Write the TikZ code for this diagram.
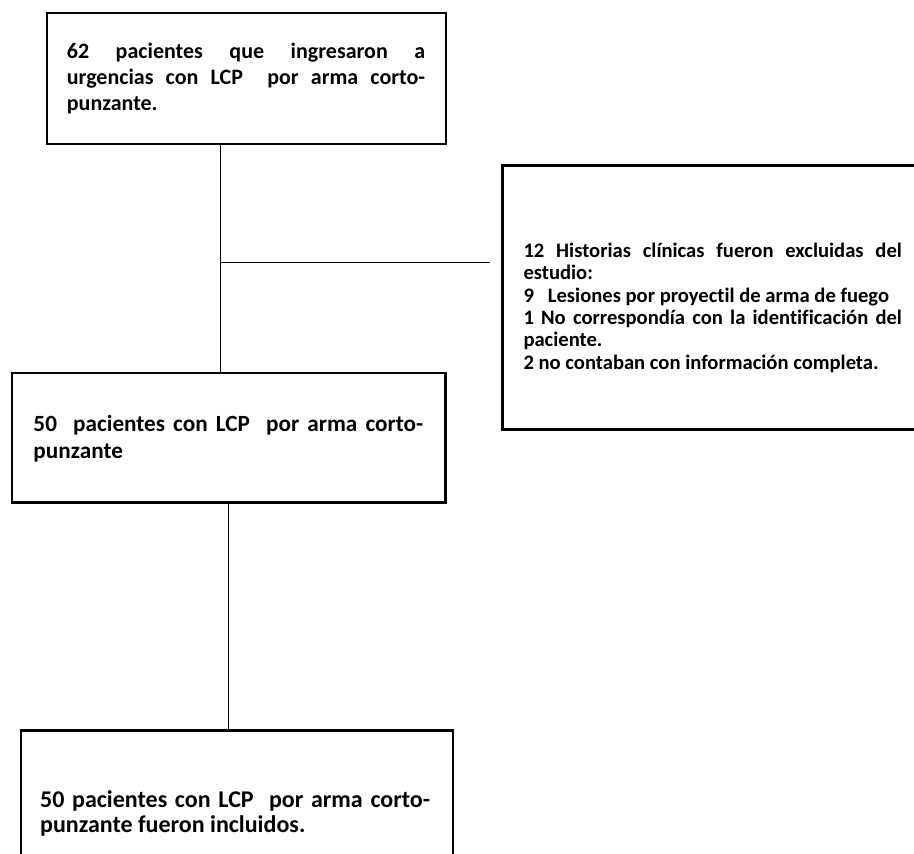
\documentclass[tikz,border=0pt]{standalone}
\usepackage{fontspec}
\setmainfont{Carlito}[Ligatures=NoCommon]
\begin{document}
\begin{tikzpicture}[x=1pt,y=-1pt,
  box/.style={draw=black, line width=2.4pt, rectangle, inner sep=0pt},
  link/.style={draw=black, line width=1.2pt},
  txt/.style={anchor=base west, inner sep=0pt, font=\bfseries}]
\useasboundingbox (0,0) rectangle (914,854);
\clip (0,0) rectangle (914,854);
% boxes
\node[box, minimum width=398.6pt, minimum height=131.4pt] (b1) at (246.5,78.5) {};
\node[box, minimum width=417.5pt, minimum height=264pt] (b2) at (711.25,297.3) {};
\node[box, minimum width=433.3pt, minimum height=129.8pt] (b3) at (228.65,437.6) {};
\node[box, minimum width=432pt, minimum height=139.7pt] (b4) at (236.7,800.15) {};
% texts
\node[txt] (t1) at (66.7,58.3) {\parbox[t]{358.3pt}{\fontsize{22}{25.85}\selectfont
\makebox[\linewidth][s]{62 pacientes que ingresaron a}\\
\makebox[\linewidth][s]{urgencias con LCP\ \ por arma corto-}\\
punzante.}};
\node[txt] (t2) at (523.3,257.3) {\parbox[t]{378.4pt}{\fontsize{20.6}{22.4}\selectfont
\makebox[\linewidth][s]{12 Historias clínicas fueron excluidas del}\\
estudio:\\
9\ \ \ Lesiones por proyectil de arma de fuego\\
\makebox[\linewidth][s]{1 No correspondía con la identificación del}\\
paciente.\\
2 no contaban con información completa.}};
\node[txt] (t3) at (33.3,431.7) {\parbox[t]{389.7pt}{\fontsize{23.2}{26.7}\selectfont
\makebox[\linewidth][s]{50\ \ pacientes con LCP\ \ por arma corto-}\\
punzante}};
\node[txt] (t4) at (40,807.3) {\parbox[t]{390pt}{\fontsize{24}{25.5}\selectfont
\makebox[\linewidth][s]{50 pacientes con LCP\ \ por arma corto-}\\
punzante fueron incluidos.}};
% connectors
\coordinate (j1) at (220.3,262.6);
\coordinate (e1) at (490,262.6);
\coordinate (j2) at (228.5,600);
\draw[link] (b1.south -| j1) -- (b3.north -| j1);
\draw[link] (j1) -- (e1);
\draw[link] (b3.south -| j2) -- (b4.north -| j2);
\end{tikzpicture}
\end{document}
